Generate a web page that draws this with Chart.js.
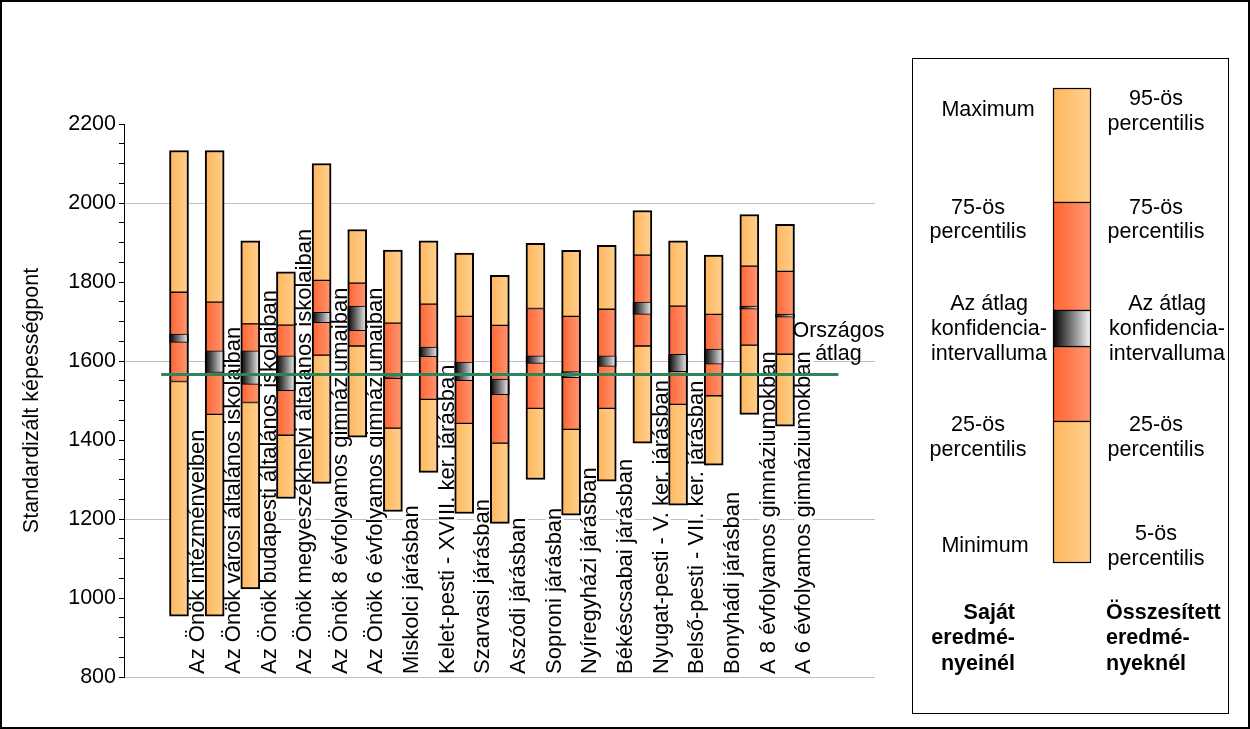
<!DOCTYPE html>
<html>
<head>
<meta charset="utf-8">
<script src="https://cdn.jsdelivr.net/npm/chart.js@4.4.1/dist/chart.umd.min.js"></script>
<style>
html,body{margin:0;padding:0;background:#fff;}
#wrap{width:1250px;height:729px;position:relative;}
canvas{display:block;}
</style>
</head>
<body>
<div id="wrap"><canvas id="c" width="1250" height="729"></canvas></div>
<script>
// ---------- DATA ----------
const categories = [
  'Az Önök intézményeiben',
  'Az Önök városi általános iskolaiban',
  'Az Önök budapesti általános iskolaiban',
  'Az Önök megyeszékhelyi általános iskolaiban',
  'Az Önök 8 évfolyamos gimnáziumaiban',
  'Az Önök 6 évfolyamos gimnáziumaiban',
  'Miskolci járásban',
  'Kelet-pesti - XVIII. ker. járásban',
  'Szarvasi járásban',
  'Aszódi járásban',
  'Soproni járásban',
  'Nyíregyházi járásban',
  'Békéscsabai járásban',
  'Nyugat-pesti - V. ker. járásban',
  'Belső-pesti - VII. ker. járásban',
  'Bonyhádi járásban',
  'A 8 évfolyamos gimnáziumokban',
  'A 6 évfolyamos gimnáziumokban'
];
const minValues    = [954, 954, 1023, 1252, 1290, 1407, 1219, 1318, 1214, 1189, 1300, 1210, 1296, 1392, 1235, 1336, 1465, 1435];
const p25Values    = [1548, 1465, 1495, 1412, 1615, 1638, 1430, 1503, 1442, 1392, 1480, 1427, 1480, 1638, 1490, 1512, 1640, 1617];
const ciLowValues  = [1647, 1571, 1541, 1525, 1697, 1677, 1555, 1611, 1550, 1515, 1594, 1558, 1586, 1718, 1573, 1592, 1731, 1711];
const ciHighValues = [1668, 1626, 1626, 1613, 1723, 1739, 1560, 1635, 1597, 1554, 1613, 1573, 1613, 1749, 1617, 1630, 1739, 1719];
const p75Values    = [1774, 1749, 1694, 1691, 1804, 1797, 1696, 1744, 1713, 1690, 1733, 1713, 1731, 1868, 1739, 1718, 1840, 1827];
const maxValues    = [2133, 2133, 1904, 1826, 2100, 1933, 1881, 1904, 1873, 1817, 1898, 1880, 1893, 1981, 1904, 1868, 1971, 1946];
const nationalAverage = 1566;
const averageLabel = ['Országos', 'átlag'];
const yTickLabels = [800, 1000, 1200, 1400, 1600, 1800, 2000, 2200];
const yGridValues = [800, 1200, 1600, 2000];
const yTitle = 'Standardizált képességpont';
const legendLeft = [['Maximum'], ['75-ös', 'percentilis'], ['Az átlag', 'konfidencia-', 'intervalluma'], ['25-ös', 'percentilis'], ['Minimum']];
const legendRight = [['95-ös', 'percentilis'], ['75-ös', 'percentilis'], ['Az átlag', 'konfidencia-', 'intervalluma'], ['25-ös', 'percentilis'], ['5-ös', 'percentilis']];
const legendLeftTitle = ['Saját', 'eredmé-', 'nyeinél'];
const legendRightTitle = ['Összesített', 'eredmé-', 'nyeknél'];

// ---------- STYLE ----------
const FONT = '"Liberation Sans", Arial, sans-serif';
const LIGHT = ['#ffb65c', '#ffd08f'];
const DARK = ['#ff6430', '#ff9874'];
const CIG = ['#000000', '#f4f4f4'];
const GREEN = '#2f855a';
const BAR_W = 19;

function seg(lo, hi) {
  return categories.map((_, i) => ({x: i, y: [lo[i], hi[i]]}));
}

// gradients applied per bar element, using the element's own x from the scale
const gradientPlugin = {
  id: 'barGradients',
  beforeDatasetsDraw(chart) {
    const c = chart.ctx;
    chart.data.datasets.forEach((ds, di) => {
      if (!ds.gradStops) return;
      const meta = chart.getDatasetMeta(di);
      meta.data.forEach((el) => {
        if (!isFinite(el.x) || !el.options || Object.isFrozen(el.options)) return;
        const g = c.createLinearGradient(el.x - BAR_W / 2, 0, el.x + BAR_W / 2, 0);
        g.addColorStop(0, ds.gradStops[0]);
        g.addColorStop(1, ds.gradStops[1]);
        el.options.backgroundColor = g;
      });
    });
  }
};

const framePlugin = {
  id: 'frameAndLegend',
  afterDatasetsDraw(chart) {
    const c = chart.ctx;
    const xs = chart.scales.x, ys = chart.scales.y;
    c.save();
    c.fillStyle = '#000';
    c.font = '21.5px ' + FONT;
    c.textAlign = 'center';
    c.textBaseline = 'middle';
    const ax = xs.getPixelForValue(18.5);
    const ay = ys.getPixelForValue(nationalAverage);
    c.fillText(averageLabel[0], ax, ay - 43);
    c.fillText(averageLabel[1], ax, ay - 20);
    c.restore();
  },
  afterDraw(chart) {
    const c = chart.ctx;
    c.save();
    c.strokeStyle = '#000';
    c.lineWidth = 2;
    c.strokeRect(1, 1, 1248, 727);
    c.lineWidth = 1;
    c.strokeRect(912.5, 58.5, 316, 655);
    const bx = 1053, bw = 37;
    const segs = [[88, 202, LIGHT], [202, 310, DARK], [346, 421, DARK], [421, 562, LIGHT], [310, 346, CIG]];
    segs.forEach(([t, b, st]) => {
      const g = c.createLinearGradient(bx, 0, bx + bw, 0);
      g.addColorStop(0, st[0]); g.addColorStop(1, st[1]);
      c.fillStyle = g;
      c.fillRect(bx, t, bw, b - t);
      c.strokeStyle = '#000';
      c.lineWidth = 1.2;
      c.strokeRect(bx + 0.5, t + 0.5, bw, b - t);
    });
    c.fillStyle = '#000';
    c.textBaseline = 'middle';
    c.font = '21.5px ' + FONT;
    c.textAlign = 'center';
    const leftCenters = [988, 978, 989, 978, 985];
    const leftY = [[110], [208, 232], [304, 329, 354], [425, 450], [546]];
    legendLeft.forEach((lines, k) => lines.forEach((t, j) => c.fillText(t, leftCenters[k], leftY[k][j])));
    const rightCenters = [1156, 1156, 1167, 1156, 1156];
    const rightY = [[99, 124], [208, 232], [304, 329, 354], [425, 450], [534, 559]];
    legendRight.forEach((lines, k) => lines.forEach((t, j) => c.fillText(t, rightCenters[k], rightY[k][j])));
    c.font = 'bold 21.5px ' + FONT;
    c.textAlign = 'right';
    legendLeftTitle.forEach((t, j) => c.fillText(t, 1015, 613 + j * 25.5));
    c.textAlign = 'left';
    legendRightTitle.forEach((t, j) => c.fillText(t, 1106, 613 + j * 25.5));
    c.restore();
  }
};

const barCommon = {
  type: 'bar',
  grouped: false,
  barThickness: BAR_W,
  borderColor: '#000',
  borderSkipped: false
};

new Chart(document.getElementById('c'), {
  type: 'bar',
  data: {
    datasets: [
      {
        type: 'line', label: 'Országos átlag',
        data: [{x: -0.5, y: nationalAverage}, {x: 18.5, y: nationalAverage}],
        borderColor: GREEN, borderWidth: 3, pointRadius: 0, fill: false, order: 0
      },
      Object.assign({}, barCommon, {label: 'CI', data: seg(ciLowValues, ciHighValues), gradStops: CIG, backgroundColor: () => CIG[0], borderWidth: {top: 1, bottom: 1, left: 2, right: 2}, order: 1}),
      Object.assign({}, barCommon, {label: 'p25-p75', data: seg(p25Values, p75Values), gradStops: DARK, backgroundColor: () => DARK[0], borderWidth: {top: 1, bottom: 1, left: 2, right: 2}, order: 2}),
      Object.assign({}, barCommon, {label: 'min-p25', data: seg(minValues, p25Values), gradStops: LIGHT, backgroundColor: () => LIGHT[0], borderWidth: {top: 1, bottom: 2, left: 2, right: 2}, order: 3}),
      Object.assign({}, barCommon, {label: 'p75-max', data: seg(p75Values, maxValues), gradStops: LIGHT, backgroundColor: () => LIGHT[0], borderWidth: {top: 2, bottom: 1, left: 2, right: 2}, order: 3})
    ]
  },
  options: {
    responsive: false,
    animation: false,
    events: [],
    devicePixelRatio: 1,
    layout: {padding: {left: 0, right: 375, top: 124, bottom: 52}},
    plugins: {legend: {display: false}, tooltip: {enabled: false}, title: {display: false}},
    scales: {
      x: {
        type: 'linear',
        position: 'top',
        min: -1.543,
        max: 19.525,
        offset: false,
        afterBuildTicks: (s) => { s.ticks = categories.map((_, i) => ({value: i})); },
        afterFit: (s) => { s.height = 0; s.paddingLeft = 0; s.paddingRight = 0; },
        ticks: {
          autoSkip: false,
          minRotation: 90,
          maxRotation: 90,
          mirror: true,
          padding: 550,
          labelOffset: 6,
          color: '#000',
          font: {family: FONT, size: 22},
          callback: (v, i) => categories[i],
          showLabelBackdrop: true,
          backdropColor: '#ffffff',
          backdropPadding: {top: -4, bottom: -4, left: 0, right: 0}
        },
        grid: {display: false, drawTicks: false, offset: false},
        border: {display: false}
      },
      y: {
        type: 'linear',
        position: 'left',
        min: 800,
        max: 2200,
        afterBuildTicks: (s) => { const t = []; for (let v = 800; v <= 2200; v += 50) t.push({value: v}); s.ticks = t; },
        afterFit: (s) => { s.width = 124; },
        ticks: {
          autoSkip: false,
          padding: 3,
          color: '#000',
          font: {family: FONT, size: 21.5},
          callback: (v) => yTickLabels.includes(v) ? String(v) : ''
        },
        grid: {
          color: (c) => (c.tick && yGridValues.includes(c.tick.value)) ? '#bfbfbf' : 'rgba(0,0,0,0)',
          tickColor: '#000',
          tickLength: 5,
          lineWidth: 1
        },
        border: {color: '#000', width: 1},
        title: {display: true, text: yTitle, color: '#000', font: {family: FONT, size: 21.5}, padding: {top: 19, bottom: 0}}
      }
    }
  },
  plugins: [gradientPlugin, framePlugin]
});
</script>
</body>
</html>
